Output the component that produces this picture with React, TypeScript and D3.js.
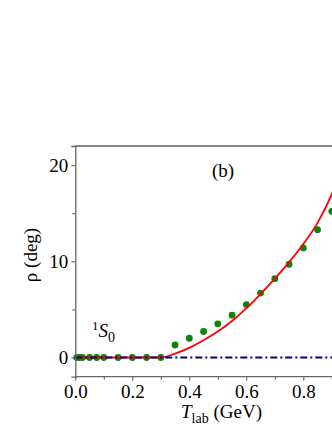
import React, { useRef, useEffect } from 'react';
import * as d3 from 'd3';

// measured points (green dots)
const dotT = [0.005, 0.015, 0.025, 0.05, 0.075, 0.1, 0.15, 0.2, 0.25, 0.3, 0.35, 0.4, 0.45, 0.5, 0.55, 0.6, 0.65, 0.7, 0.75, 0.8, 0.85, 0.9, 0.95];
const dotRho = [0, 0, 0, 0, 0, 0, 0, 0, 0, 0, 1.3, 2.0, 2.7, 3.5, 4.4, 5.5, 6.7, 8.2, 9.7, 11.4, 13.3, 15.2, 17.3];

// model curve (red)
const curveT = [0, 0.1, 0.2, 0.3, 0.35, 0.4, 0.45, 0.5, 0.55, 0.6, 0.65, 0.7, 0.75, 0.8, 0.85, 0.9, 0.95, 1.0];
const curveRho = [0, 0, 0, 0, 0.4, 1.0, 1.8, 2.7, 3.8, 5.1, 6.6, 8.2, 9.9, 11.8, 14.0, 17.0, 21, 26];

// dash-dot reference (blue)
const refT = [0, 1.05];
const refRho = [0, 0];

const xTicks = [0, 0.2, 0.4, 0.6, 0.8];
const xMinor = [0.1, 0.3, 0.5, 0.7, 0.9];
const yTicks = [0, 10, 20];
const yMinor = [5, 15];

const W = 332;
const H = 430;
const FONT = '"Liberation Serif", "Times New Roman", serif';

const App = () => {
  const ref = useRef<SVGSVGElement>(null);

  useEffect(() => {
    const svg = d3.select(ref.current);
    svg.selectAll('*').remove();

    const left = 75.3;
    const top = 146;
    const bottom = 376.7;

    const x = d3.scaleLinear().domain([0, 1.05]).range([left, left + 1.05 * 285]);
    const y = d3.scaleLinear().domain([-2, 22]).range([bottom, top]);

    const g = svg.append('g');

    // dots
    g.selectAll('circle.dot')
      .data(dotT.map((t, i) => [t, dotRho[i]]))
      .enter()
      .append('circle')
      .attr('class', 'dot')
      .attr('cx', d => x(d[0]))
      .attr('cy', d => y(d[1]))
      .attr('r', 3.4)
      .attr('fill', '#0a850a');

    const line = d3.line<number[]>()
      .x(d => x(d[0]))
      .y(d => y(d[1]));

    g.append('path')
      .datum(curveT.map((t, i) => [t, curveRho[i]]))
      .attr('d', line.curve(d3.curveMonotoneX))
      .attr('fill', 'none')
      .attr('stroke', '#ff0000')
      .attr('stroke-width', 1.8);

    g.append('path')
      .datum(refT.map((t, i) => [t, refRho[i]]))
      .attr('d', line.curve(d3.curveLinear))
      .attr('fill', 'none')
      .attr('stroke', '#000080')
      .attr('stroke-width', 2.2)
      .attr('stroke-dasharray', '7,3,2,3');

    // frame
    g.append('line')
      .attr('x1', left).attr('x2', W + 10)
      .attr('y1', top).attr('y2', top)
      .attr('stroke', '#111').attr('stroke-width', 1);

    const xAxis = d3.axisBottom(x).tickValues(xTicks).tickSize(4).tickFormat(d3.format('.1f'));
    const xAx = g.append('g').attr('transform', `translate(0,${bottom})`).call(xAxis);
    xAx.select('.domain').attr('d', `M${left},0H${W + 10}`);
    const xMin = d3.axisBottom(x).tickValues(xMinor).tickSize(3).tickFormat(() => '');
    const xAx2 = g.append('g').attr('transform', `translate(0,${bottom})`).call(xMin);
    xAx2.select('.domain').remove();

    const yAxis = d3.axisLeft(y).tickValues(yTicks).tickSize(4);
    const yAx = g.append('g').attr('transform', `translate(${left},0)`).call(yAxis);
    const yMin = d3.axisLeft(y).tickValues(yMinor).tickSize(3).tickFormat(() => '');
    const yAx2 = g.append('g').attr('transform', `translate(${left},0)`).call(yMin);
    yAx2.select('.domain').remove();

    [xAx, xAx2, yAx, yAx2].forEach(a => {
      a.selectAll('.domain').attr('stroke', '#666').attr('stroke-width', 1.3);
      a.selectAll('.tick line').attr('stroke', '#555').attr('stroke-width', 1);
      a.selectAll('.tick text')
        .attr('fill', '#000')
        .style('font-family', FONT)
        .style('font-size', '19px');
    });
    xAx.selectAll('.tick text').attr('y', 8).attr('dy', '0.71em');
    yAx.selectAll('.tick text').attr('x', -7).attr('dy', '0.34em');

    // labels
    g.append('text')
      .attr('x', 223).attr('y', 177)
      .attr('text-anchor', 'middle')
      .style('font-family', FONT).style('font-size', '19px')
      .text('(b)');

    g.append('text')
      .attr('transform', 'translate(37,255) rotate(-90)')
      .attr('text-anchor', 'middle')
      .style('font-family', FONT).style('font-size', '19px')
      .text('ρ (deg)');

    const xt = g.append('text')
      .attr('x', 181).attr('y', 418)
      .style('font-family', FONT).style('font-size', '19px');
    xt.append('tspan').style('font-style', 'italic').text('T');
    xt.append('tspan').attr('dy', 5).style('font-size', '14px').text('lab');
    xt.append('tspan').attr('dy', -5).text(' (GeV)');

    const st = g.append('text')
      .attr('x', 92).attr('y', 337)
      .style('font-family', FONT).style('font-size', '19px');
    st.append('tspan').attr('dy', -7).style('font-size', '13px').text('1');
    st.append('tspan').attr('dy', 7).style('font-style', 'italic').text('S');
    st.append('tspan').attr('dy', 5).style('font-size', '14px').text('0');
  }, []);

  return (
    <svg
      ref={ref}
      width={W}
      height={H}
      style={{ position: 'absolute', left: 0, top: 0, background: '#fff' }}
    />
  );
};

export default App;
